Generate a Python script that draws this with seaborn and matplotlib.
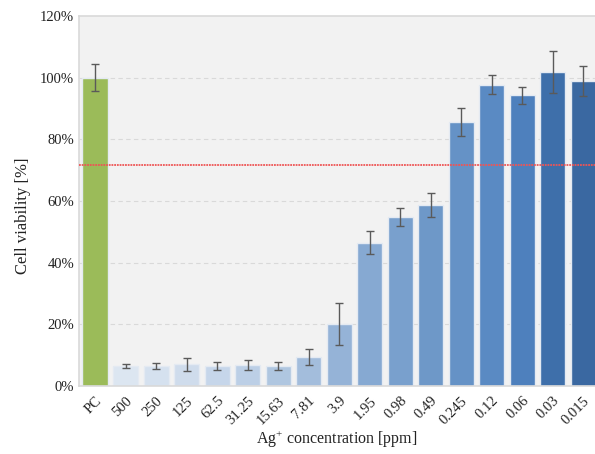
import numpy as np
import pandas as pd
import matplotlib
matplotlib.use('Agg')
import matplotlib.pyplot as plt
import seaborn as sns
from matplotlib.ticker import PercentFormatter

# values
concentrations = ['PC', '500', '250', '125', '62.5', '31.25', '15.63', '7.81', '3.9',
                  '1.95', '0.98', '0.49', '0.245', '0.12', '0.06', '0.03', '0.015']
viability = [100.0, 6.5, 6.5, 7.0, 6.5, 6.8, 6.4, 9.4, 20.0,
             46.5, 54.8, 58.7, 85.6, 97.7, 94.2, 101.8, 98.8]
viability_err = [4.5, 0.75, 0.9, 2.1, 1.2, 1.7, 1.4, 2.5, 6.8,
                 3.7, 2.9, 4.0, 4.6, 3.0, 2.7, 6.7, 4.8]
threshold = 71.7

bar_colors = ['#9BBB59',
              '#DCE6F1', '#D5E1EF', '#CFDCEC', '#C6D6EA', '#BCCFE6', '#AFC6E0',
              '#A3BDDC', '#95B3D7', '#86A9D2', '#79A0CD', '#6E98C8', '#6592C6',
              '#5A8AC3', '#4E80BD', '#3E6FAA', '#3A68A1']

sns.set_style('white')
plt.rcParams['font.family'] = ['Liberation Serif', 'DejaVu Serif']
plt.rcParams['mathtext.fontset'] = 'custom'
plt.rcParams['mathtext.rm'] = 'Liberation Serif'

df = pd.DataFrame({'conc': concentrations, 'viab': viability})

fig = plt.figure(figsize=(5.95, 4.54), dpi=100)
ax = fig.add_axes([0.133, 0.150, 0.867, 0.815])
ax.set_facecolor('#F2F2F2')

sns.barplot(data=df, x='conc', y='viab', hue='conc', palette=bar_colors,
            order=concentrations, hue_order=concentrations, legend=False,
            saturation=1, width=0.82, edgecolor='#E4EAF2', linewidth=1.0, ax=ax, zorder=2)

ax.errorbar(np.arange(len(concentrations)), viability, yerr=viability_err,
            fmt='none', ecolor='#5A5A5A', elinewidth=1.0, capsize=3, capthick=1.0, zorder=3)

ax.axhline(threshold, color='#EE5555', linestyle=(0, (1, 0.5)), linewidth=1.3, zorder=4)

ax.set_ylim(0, 120)
ax.set_yticks(range(0, 121, 20))
ax.yaxis.set_major_formatter(PercentFormatter(decimals=0))
ax.set_xlim(-0.52, 16.39)

for y in range(20, 101, 20):
    ax.axhline(y, color='#D9D9D9', linestyle=(0, (4, 3)), linewidth=0.8, zorder=1)

ax.set_xticks(range(len(concentrations)))
ax.set_xticklabels(concentrations, rotation=45, ha='right', rotation_mode='anchor')
ax.tick_params(axis='both', length=0, labelsize=10.5, colors='#222222')
ax.tick_params(axis='x', pad=6)

ax.set_xlabel('Ag$^{+}$ concentration [ppm]', fontsize=11.5, color='#222222', labelpad=1)
ax.set_ylabel('Cell viability [%]', fontsize=12, color='#222222')
ax.yaxis.set_label_coords(-0.094, 0.46)

for spine in ['left', 'top', 'bottom']:
    ax.spines[spine].set_color('#D9D9D9')
    ax.spines[spine].set_linewidth(1.2)
ax.spines['right'].set_visible(False)

fig.savefig('out.png', dpi=100)
